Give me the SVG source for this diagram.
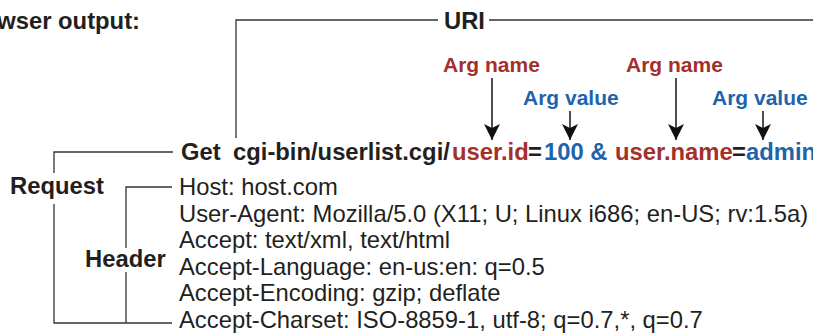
<svg xmlns="http://www.w3.org/2000/svg" width="813" height="334" viewBox="0 0 813 334">
<style>
text{font-family:"Liberation Sans",Arial,Helvetica,sans-serif;fill:#231f20}
.b{font-weight:bold;font-size:23.8px}
.r{font-size:23.8px}
.arg{font-weight:bold;font-size:21px}
.red{fill:#a3302b}
.blue{fill:#1f63ad}
.ln{fill:none;stroke:#333;stroke-width:1.3}
.ar{fill:none;stroke:#222;stroke-width:1.6}
</style>
<defs>
<marker id="ah" viewBox="0 0 16 16" refX="16" refY="8" markerWidth="16" markerHeight="16" markerUnits="userSpaceOnUse" orient="auto">
<path d="M0,0 L16,8 L0,16 L4,8 z" fill="#111"/>
</marker>
</defs>
<g id="title"><text class="b" x="140" y="29" text-anchor="end">wser output:</text></g>
<g id="uri"><text class="b" x="444" y="29">URI</text></g>
<g id="argname1"><text class="arg red" x="443" y="72">Arg name</text></g>
<g id="argvalue1"><text class="arg blue" x="523" y="105">Arg value</text></g>
<g id="argname2"><text class="arg red" x="626" y="72">Arg name</text></g>
<g id="argvalue2"><text class="arg blue" x="712" y="105">Arg value</text></g>
<g id="getline"><text class="b" y="160"><tspan x="181">Get</tspan><tspan x="233">cgi-bin/userlist.cgi/</tspan><tspan x="452" class="red">user.id</tspan><tspan x="528">=</tspan><tspan x="544" class="blue">100 &amp; </tspan><tspan x="615" class="red">user.name</tspan><tspan x="732">=</tspan><tspan x="746" class="blue">admin</tspan></text></g>
<g id="request"><text class="b" x="10" y="194">Request</text></g>
<g id="header"><text class="b" x="85" y="267">Header</text></g>
<g id="headerlines">
<text class="r" x="179" y="195">Host: host.com</text>
<text class="r" x="179" y="221.6">User-Agent: Mozilla/5.0 (X11; U; Linux i686; en-US; rv:1.5a)</text>
<text class="r" x="179" y="248.2">Accept: text/xml, text/html</text>
<text class="r" x="179" y="274.8">Accept-Language: en-us:en: q=0.5</text>
<text class="r" x="179" y="301.4">Accept-Encoding: gzip; deflate</text>
<text class="r" x="179" y="328">Accept-Charset: ISO-8859-1, utf-8; q=0.7,*, q=0.7</text>
</g>
<g id="connectors">
<path class="ln" d="M236,138 V20 H438 M489,20 H813"/>
<path class="ln" d="M173,152 H54 V173 M54,204 V323 H172"/>
<path class="ln" d="M172,187 H126 V248 M126,272 V323"/>
<line class="ar" x1="492" y1="78" x2="492" y2="140" marker-end="url(#ah)"/>
<line class="ar" x1="570" y1="111" x2="570" y2="140" marker-end="url(#ah)"/>
<line class="ar" x1="676" y1="78" x2="676" y2="140" marker-end="url(#ah)"/>
<line class="ar" x1="763" y1="111" x2="763" y2="140" marker-end="url(#ah)"/>
</g>
</svg>
